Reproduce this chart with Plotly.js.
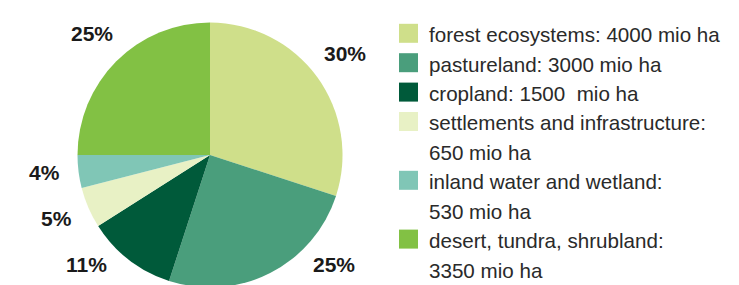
<!DOCTYPE html>
<html>
<head>
<meta charset="utf-8">
<script src="https://cdn.plot.ly/plotly-3.0.1.min.js"></script>
<style>
  html, body { margin: 0; padding: 0; background: #ffffff; overflow: hidden; }
  #chart { width: 739px; height: 300px; }
</style>
</head>
<body>
<div id="chart"></div>
<script>
// ---- data ----
const categories = ["forest ecosystems", "pastureland", "cropland",
  "settlements and infrastructure", "inland water and wetland", "desert, tundra, shrubland"];
const areaMioHa = ["4000", "3000", "1500 ", "650", "530", "3350"];
const sharePct = [30, 25, 11, 5, 4, 25];
const wrapAfterColon = [false, false, false, true, true, true];
const colors = ["#cfdf8a", "#4a9e7c", "#005a3a", "#e8f1c5", "#80c6b6", "#82c144"];

// ---- geometry ----
const W = 739, H = 300;
const px2x = p => p / W;
const py2y = p => 1 - p / H;
const cx = 210, cy = 155, r = 132.5;

const pie = {
  type: "pie",
  values: sharePct,
  labels: categories,
  sort: false,
  direction: "clockwise",
  rotation: 0,
  marker: { colors: colors, line: { width: 0 } },
  textinfo: "none",
  hoverinfo: "label+value",
  showlegend: false,
  domain: { x: [px2x(cx - r), px2x(cx + r)], y: [py2y(cy + r), py2y(cy - r)] }
};

const annotations = [];
const shapes = [];

// ---- percentage labels: on a circle outside the pie at each slice's mid-angle,
//      slid along that circle so they stay inside the visible area ----
const labelR = 167, maxYrel = 267 - cy, glyphLift = 3;
const total = sharePct.reduce((a, b) => a + b, 0);
let cum = 0;
sharePct.forEach(v => {
  const mid = (cum + v / 2) / total * 2 * Math.PI;
  cum += v;
  let dx = labelR * Math.sin(mid), dy = -labelR * Math.cos(mid);
  if (dy > maxYrel) {
    dy = maxYrel;
    dx = Math.sign(dx) * Math.sqrt(labelR * labelR - dy * dy);
  }
  annotations.push({
    xref: "paper", yref: "paper", x: px2x(cx + dx), y: py2y(cy + dy - glyphLift),
    xanchor: "center", yanchor: "middle", showarrow: false,
    text: "<b>" + v + "%</b>",
    font: { family: "Liberation Sans, Arial, sans-serif", size: 21, color: "#1a1a1a" }
  });
});

// ---- legend built from the category arrays ----
const lineStart = 33.3, lineStep = 29.4, sq = 19;
let line = 0;
categories.forEach((c, i) => {
  const yc = lineStart + lineStep * line;
  shapes.push({
    type: "rect", xref: "paper", yref: "paper",
    x0: px2x(399), x1: px2x(399 + sq),
    y0: py2y(yc + sq / 2), y1: py2y(yc - sq / 2),
    fillcolor: colors[i], line: { width: 0 }
  });
  const lines = wrapAfterColon[i]
    ? [c + ":", areaMioHa[i] + " mio ha"]
    : [c + ": " + areaMioHa[i] + " mio ha"];
  lines.forEach(t => {
    const y = lineStart + lineStep * line + 1.5;
    annotations.push({
      xref: "paper", yref: "paper", x: px2x(427), y: py2y(y),
      xanchor: "left", yanchor: "middle", showarrow: false,
      text: t.replace(/  /g, "&nbsp; "),
      font: { family: "Liberation Sans, Arial, sans-serif", size: 20.6, color: "#2a2a2a" }
    });
    line++;
  });
});

const layout = {
  width: W, height: H,
  margin: { l: 0, r: 0, t: 0, b: 0 },
  paper_bgcolor: "#ffffff",
  plot_bgcolor: "#ffffff",
  shapes: shapes,
  annotations: annotations
};

Plotly.newPlot("chart", [pie], layout, { displayModeBar: false, staticPlot: true });
</script>
</body>
</html>
